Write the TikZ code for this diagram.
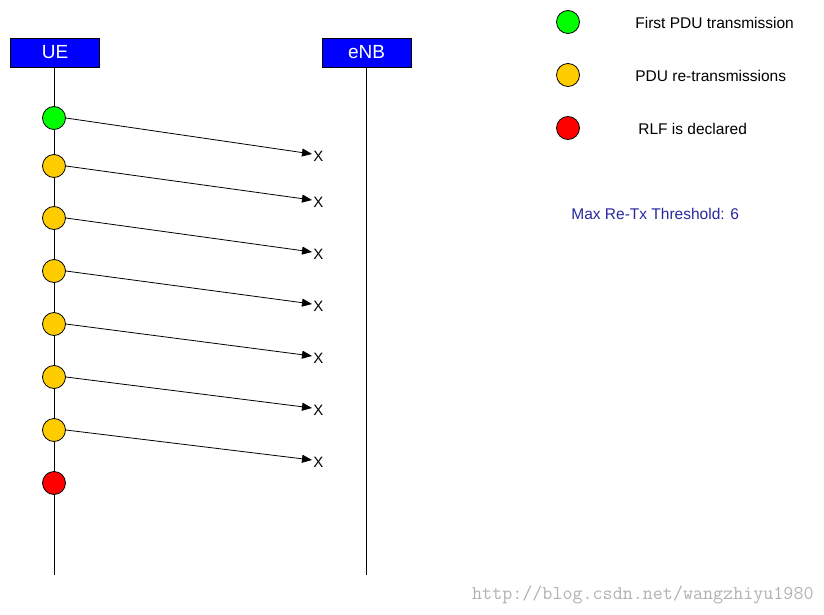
\documentclass[tikz,border=0pt]{standalone}
\usepackage{fontspec}
\setmainfont{Liberation Sans}
\usetikzlibrary{arrows.meta}
\definecolor{boxblue}{RGB}{0,0,255}
\definecolor{pdugreen}{RGB}{0,255,0}
\definecolor{pduyellow}{RGB}{255,204,0}
\definecolor{pdured}{RGB}{255,0,0}
\definecolor{txtblue}{RGB}{40,40,160}
\begin{document}
\begin{tikzpicture}[x=1pt,y=-1pt,line width=0.8pt,
  hdr/.style={draw=black,fill=boxblue,text=white,minimum width=89pt,minimum height=29pt,inner sep=0pt,font=\fontsize{19}{19}\selectfont},
  dot/.style={circle,draw=black,minimum size=23pt,inner sep=0pt},
  msg/.style={-{Triangle[length=10pt,width=8pt]},black},
  lbl/.style={font=\fontsize{15.5}{15.5}\selectfont,anchor=west,inner sep=0pt},
  xm/.style={font=\fontsize{15}{15}\selectfont,anchor=west,inner sep=0pt}]
\useasboundingbox (0,0) rectangle (824,615);
\fill[white] (0,0) rectangle (824,615);
\node[hdr] (ue) at (55,52.5) {UE};
\node[hdr] (enb) at (366.5,52.5) {eNB};
\coordinate (ueend) at (54,575);
\coordinate (enbend) at (366,575);
\draw (54,67) -- (ueend);
\draw (366,67) -- (enbend);
\node[dot,fill=pdugreen] (d1) at (54,118) {};
\node[dot,fill=pduyellow] (d2) at (54,166) {};
\node[dot,fill=pduyellow] (d3) at (54,218) {};
\node[dot,fill=pduyellow] (d4) at (54,271) {};
\node[dot,fill=pduyellow] (d5) at (54,324) {};
\node[dot,fill=pduyellow] (d6) at (54,377) {};
\node[dot,fill=pduyellow] (d7) at (54,430) {};
\node[dot,fill=pdured] (d8) at (54,483) {};
\foreach \i/\y in {1/154,2/200,3/252,4/304,5/356,6/408,7/460}{
  \node[xm] (x\i) at (313,\y+2) {X};
  \coordinate (e\i) at (312,\y);
  \draw[msg] (d\i.east) -- (e\i);
}
\node[dot,fill=pdugreen] (l1) at (568,22) {};
\node[dot,fill=pduyellow] (l2) at (568,75) {};
\node[dot,fill=pdured] (l3) at (568,128) {};
\node[lbl] (t1) at (635,23) {First PDU transmission};
\node[lbl] (t2) at (635,76) {PDU re-transmissions};
\node[lbl] (t3) at (638,129) {RLF is declared};
\node[lbl,text=txtblue] (thr) at (571,214) {Max Re-Tx Threshold: 6};
\node[anchor=east,inner sep=0pt,text=black!30,font=\ttfamily\fontsize{19.5}{19.5}\selectfont] (wm) at (814,595) {http://blog.csdn.net/wangzhiyu1980};
\end{tikzpicture}
\end{document}
